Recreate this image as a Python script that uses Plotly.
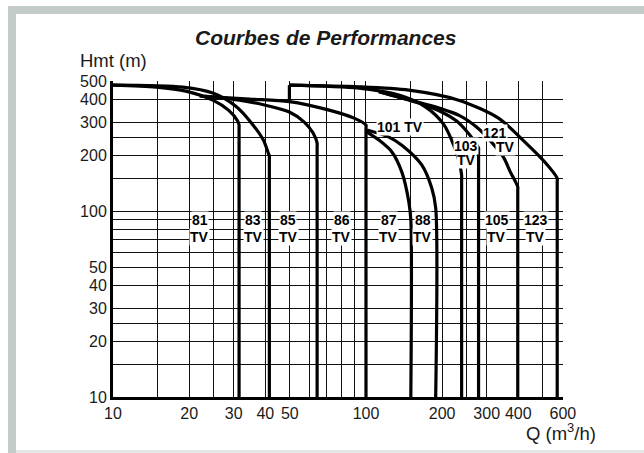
import math
import plotly.graph_objects as go

# ---------------- data (Q in m3/h, Hmt in m) ----------------
q_81 = [10, 14.8, 19.4, 24.8, 28.6, 31.1, 31.5, 31.5, 31.5]
h_81 = [476, 464, 442, 395, 349, 305, 290, 280, 10]

q_83 = [10, 18.9, 24.8, 30.5, 35.3, 39.3, 41.1, 41.5, 41.5, 41.5]
h_83 = [476, 464, 431, 367, 297, 241, 205, 198, 190, 10]

q_85 = [23.0, 31.6, 39.7, 49.8, 57.0, 61.8, 64.1, 64.1, 64.1]
h_85 = [415, 395, 372, 341, 301, 263, 232, 222, 10]

q_86 = [22.0, 34.6, 49.8, 71.5, 89.7, 100, 100, 100]
h_86 = [415, 400, 388, 349, 316, 290, 280, 10]

q_87 = [100.9, 112.5, 126.6, 138.6, 147.7, 150.4, 150.4]
h_87 = [266, 241, 208, 162, 112, 89.5, 10]

q_88 = [100.9, 123.2, 138.6, 166.1, 181.9, 188.6, 188.6]
h_88 = [273, 250, 226, 177, 133, 104, 10]

q_step = [49.8, 49.8]
h_step = [388, 476]

q_123 = [49.8, 93.9, 147.7, 232.4, 334, 425, 510, 570, 570, 570]
h_123 = [476, 466, 447, 395, 316, 235, 183, 150, 144, 10]

q_101 = [49.8, 93.9, 134.9, 172.3, 202.9, 222.2, 232.4, 238.8, 238.8, 238.8]
h_101 = [476, 458.5, 420.5, 362.4, 292.5, 226.3, 188, 156, 149, 10]

q_103 = [112.5, 134.9, 161.7, 199.2, 228.2, 247.6, 266.2, 278.6, 278.6, 278.6]
h_103 = [439, 410, 381, 341, 305, 273, 241, 218, 210, 10]

q_105 = [112.5, 134.9, 177.0, 232.4, 273.5, 313.4, 349.4, 372.3, 398, 398, 398]
h_105 = [439, 410, 372, 328, 283, 235, 195, 162, 135, 129, 10]

curves = [
    (q_81, h_81), (q_83, h_83), (q_85, h_85), (q_86, h_86),
    (q_87, h_87), (q_88, h_88), (q_123, h_123), (q_101, h_101),
    (q_103, h_103), (q_105, h_105),
]

# grid / tick values
x_grid = [10, 15, 20, 25, 30, 40, 50, 60, 70, 80, 90, 100, 150, 200, 250, 300, 400, 500, 600]
x_labels = ["10", "", "20", "", "30", "40", "50", "", "", "", "", "100", "", "200", "", "300", "400", "", "600"]
y_grid = [10, 15, 20, 25, 30, 40, 50, 60, 70, 80, 90, 100, 150, 200, 250, 300, 400, 500]
y_labels = ["10", "", "20", "", "30", "40", "50", "", "", "", "", "100", "", "200", "", "300", "400", "500"]

# curve labels
low_labels = ["81", "83", "85", "86", "87", "88", "105", "123"]
low_label_q = [22.0, 35.9, 49.3, 80.1, 123.2, 167.7, 328, 469]
upper_labels = ["101 TV", "103", "TV", "121", "TV"]
upper_label_q = [136.1, 248.7, 250.5, 324, 354.8]
upper_label_h = [283, 223.6, 188, 264.2, 221.6]

# ---------------- layout geometry ----------------
W, HGT = 644, 453
L, R, T, B = 113, 81, 81, 56
PW, PH = W - L - R, HGT - T - B


def px(x):
    return (x - L) / PW


def py(y):
    return (HGT - B - y) / PH


fig = go.Figure()

for q, h in curves:
    fig.add_trace(go.Scatter(x=q, y=h, mode="lines",
                             line=dict(color="black", width=3.2, shape="spline", smoothing=0.8),
                             hoverinfo="skip", showlegend=False))
fig.add_trace(go.Scatter(x=q_step, y=h_step, mode="lines",
                         line=dict(color="black", width=3.2),
                         hoverinfo="skip", showlegend=False))

txt_color = "#1a1a1a"
base_font = "Liberation Sans, Arial, sans-serif"
label_font = dict(family="Liberation Sans, Arial", size=14, color="black")

annotations = []
for t, q in zip(low_labels, low_label_q):
    annotations.append(dict(x=math.log10(q), y=math.log10(89), xref="x", yref="y",
                            text="<b>%s</b>" % t, showarrow=False, font=label_font,
                            bgcolor="white", borderpad=0))
    annotations.append(dict(x=math.log10(q), y=math.log10(72.5), xref="x", yref="y",
                            text="<b>TV</b>", showarrow=False, font=label_font,
                            bgcolor="white", borderpad=0))
for t, q, h in zip(upper_labels, upper_label_q, upper_label_h):
    annotations.append(dict(x=math.log10(q), y=math.log10(h), xref="x", yref="y",
                            text="<b>%s</b>" % t, showarrow=False, font=label_font,
                            bgcolor="white", borderpad=0))

annotations += [
    dict(x=px(325), y=py(38), xref="paper", yref="paper", showarrow=False,
         text="<b><i>Courbes de Performances</i></b>",
         font=dict(family=base_font, size=21, color=txt_color),
         xanchor="center", yanchor="middle"),
    dict(x=px(78), y=py(60), xref="paper", yref="paper", showarrow=False,
         text="Hmt (m)", font=dict(family=base_font, size=18.5, color=txt_color),
         xanchor="left", yanchor="middle"),
    dict(x=px(598), y=py(432), xref="paper", yref="paper", showarrow=False,
         text="Q (m<sup>3</sup>/h)", font=dict(family=base_font, size=18.5, color=txt_color),
         xanchor="right", yanchor="middle"),
]

frame_gray = "#c3cbc8"
shapes = [
    dict(type="rect", xref="paper", yref="paper", x0=px(8), x1=px(644), y0=py(14), y1=py(6),
         fillcolor=frame_gray, line=dict(width=0), layer="below"),
    dict(type="rect", xref="paper", yref="paper", x0=px(8), x1=px(16), y0=py(453), y1=py(6),
         fillcolor=frame_gray, line=dict(width=0), layer="below"),
    dict(type="rect", xref="paper", yref="paper", x0=px(16), x1=px(644), y0=py(453), y1=py(450),
         fillcolor="#e2e6e4", line=dict(width=0), layer="below"),
]

axis_common = dict(
    type="log", tickmode="array", showgrid=True, gridcolor="#111111", gridwidth=1,
    showline=True, linecolor="black", linewidth=3, ticks="", zeroline=False, tickangle=0,
    tickfont=dict(family=base_font, size=16, color=txt_color),
)

fig.update_layout(
    width=W, height=HGT, autosize=False,
    margin=dict(l=L, r=R, t=T, b=B, pad=0),
    paper_bgcolor="white", plot_bgcolor="white",
    xaxis=dict(range=[1, math.log10(600) + 0.0006], tickvals=x_grid, ticktext=x_labels, **axis_common),
    yaxis=dict(range=[1, math.log10(500) + 0.0006], tickvals=y_grid, ticktext=y_labels, **axis_common),
    annotations=annotations, shapes=shapes, showlegend=False,
)

fig.write_html("out.html", config={"displayModeBar": False},
               post_script="document.body.style.margin='0';document.body.style.overflow='hidden';")
